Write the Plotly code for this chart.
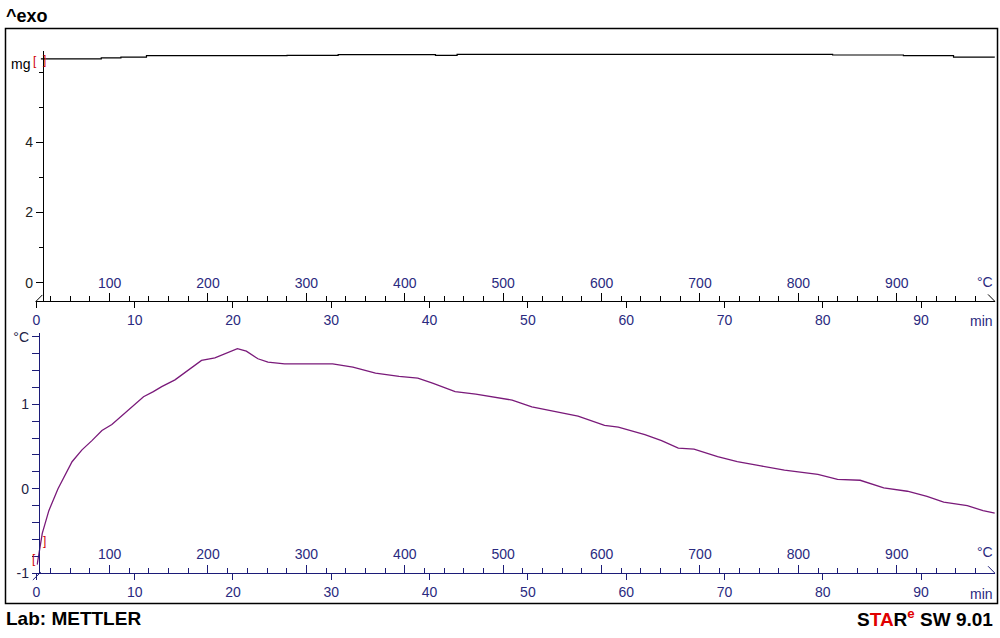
import plotly.graph_objects as go

# ---------------- data ----------------
dta_time = [0.08, 0.6, 1.27, 2.2, 3.63, 4.64, 5.65, 6.67, 7.68, 9.04, 9.88, 10.9, 11.9, 12.75,
            14.1, 15.45, 16.8, 18.16, 19.5, 20.45, 21.36, 22.54, 23.56, 25.25, 27.94, 30.14,
            32.2, 34.5, 36.9, 38.8, 40.3, 42.6, 44.7, 47.0, 48.4, 50.4, 52.4, 55.1, 57.8,
            59.2, 61.9, 63.6, 65.3, 66.9, 69.3, 71.3, 73.7, 76.1, 79.5, 81.5, 83.8, 86.2,
            88.6, 90.6, 92.3, 94.7, 96.3, 97.5]
dta_value = [-0.90, -0.53, -0.26, 0.00, 0.32, 0.46, 0.57, 0.69, 0.76, 0.90, 0.98, 1.09, 1.15, 1.21,
             1.29, 1.41, 1.52, 1.55, 1.62, 1.66, 1.63, 1.54, 1.50, 1.48, 1.48, 1.48,
             1.44, 1.37, 1.33, 1.31, 1.25, 1.15, 1.12, 1.08, 1.05, 0.97, 0.92, 0.86, 0.75,
             0.73, 0.64, 0.57, 0.48, 0.47, 0.38, 0.32, 0.27, 0.22, 0.17, 0.11, 0.10, 0.01,
             -0.03, -0.09, -0.16, -0.20, -0.26, -0.29]

mass_time = [0.46, 6.6, 8.6, 11.2, 25.5, 30.7, 40.6, 42.8, 81.0, 88.2, 93.3, 97.5]
mass_value = [6.38, 6.41, 6.43, 6.47, 6.48, 6.50, 6.48, 6.51, 6.49, 6.47, 6.43, 6.42]

time_ticks = [0, 10, 20, 30, 40, 50, 60, 70, 80, 90]
temp_ticks = [100, 200, 300, 400, 500, 600, 700, 800, 900]
temp_minor = [t for t in range(40, 1000, 20) if t % 100 != 0]
mass_ticks = [0, 2, 4]
mass_tick_text = ["0", "2", "4"]
mass_minor = [1, 3, 5, 6]
dta_ticks = [-1, 0, 1, 1.8]
dta_tick_text = ["-1", "0", "1", "°C"]
dta_minor = [-0.8, -0.6, -0.4, -0.2, 0.2, 0.4, 0.6, 0.8, 1.2, 1.4, 1.6]

T_START = 25.6      # °C at t = 0
RATE = 9.99         # K/min
T_END_MIN = 97.5

# ---------------- geometry helpers ----------------
W, H = 1000, 638
def px(x):
    return x / W
def py(y):
    return 1 - y / H

NAVY = "#2A2A80"
NAVY_LINE = "#1C1C78"
FONT = "Arial, Liberation Sans, sans-serif"

xdom = [px(32.5), px(994.8)]
trange = [0, T_END_MIN]
temprange = [T_START, T_START + RATE * T_END_MIN]

fig = go.Figure()
fig.add_trace(go.Scatter(x=mass_time, y=mass_value, mode="lines", line=dict(color="black", width=1.2, shape="hv"),
                         xaxis="x", yaxis="y", showlegend=False, hoverinfo="skip"))
fig.add_trace(go.Scatter(x=dta_time, y=dta_value, mode="lines", line=dict(color="#7A1A7A", width=1.3),
                         xaxis="x2", yaxis="y2", showlegend=False, hoverinfo="skip"))
# empty helper traces so that the temperature axes are drawn
fig.add_trace(go.Scatter(x=temprange, y=[None, None], mode="lines", xaxis="x3", yaxis="y",
                         showlegend=False, hoverinfo="skip"))
fig.add_trace(go.Scatter(x=temprange, y=[None, None], mode="lines", xaxis="x4", yaxis="y2",
                         showlegend=False, hoverinfo="skip"))

tickfont = dict(family=FONT, size=14, color=NAVY)

def time_axis(pos, color):
    return dict(domain=xdom, range=trange, anchor="free", position=pos, side="bottom",
                tickmode="array", tickvals=time_ticks, ticks="outside", ticklen=6, tickwidth=1,
                tickcolor=color, showline=True, linecolor=color, linewidth=1,
                showgrid=False, zeroline=False, tickfont=tickfont, fixedrange=True)

def temp_axis(over, pos, color):
    return dict(overlaying=over, domain=xdom, range=temprange, anchor="free", position=pos, side="top",
                tickmode="array", tickvals=temp_ticks, ticks="outside", ticklen=8, tickwidth=1,
                tickcolor=color, showline=False, showgrid=False, zeroline=False,
                minor=dict(tickmode="array", tickvals=temp_minor, ticks="outside", ticklen=5,
                           tickcolor=color, tickwidth=1, showgrid=False),
                tickfont=tickfont, fixedrange=True)

top_axis_y = py(303)
bot_axis_y = py(580)

fig.update_layout(
    width=W, height=H, margin=dict(l=0, r=0, t=0, b=0), autosize=False,
    paper_bgcolor="white", plot_bgcolor="rgba(0,0,0,0)",
    xaxis=time_axis(top_axis_y, "black"),
    xaxis3=temp_axis("x", top_axis_y, "black"),
    xaxis2=time_axis(bot_axis_y, NAVY_LINE),
    xaxis4=temp_axis("x2", bot_axis_y, NAVY_LINE),
    yaxis=dict(domain=[py(303), py(48)], range=[(284 - 303) / 35.75, (284 - 48) / 35.75],
               anchor="free", position=px(39), side="left",
               tickmode="array", tickvals=mass_ticks, ticktext=mass_tick_text,
               ticks="outside", ticklen=7, tickwidth=1, tickcolor="black",
               minor=dict(tickmode="array", tickvals=mass_minor, ticks="outside", ticklen=4,
                          tickcolor="black", tickwidth=1, showgrid=False),
               showline=True, linecolor="black", linewidth=1, showgrid=False, zeroline=False,
               tickfont=dict(family=FONT, size=14, color="#222222"), fixedrange=True),
    yaxis2=dict(domain=[py(580), py(335)], range=[-1.0, (494.0 - 335) / 86.0],
                anchor="free", position=px(35), side="left",
                tickmode="array", tickvals=dta_ticks, ticktext=dta_tick_text,
                ticks="outside", ticklen=7, tickwidth=1, tickcolor=NAVY_LINE,
                minor=dict(tickmode="array", tickvals=dta_minor, ticks="outside", ticklen=7,
                           tickcolor=NAVY_LINE, tickwidth=1, showgrid=False),
                showline=True, linecolor=NAVY_LINE, linewidth=1, showgrid=False, zeroline=False,
                tickfont=dict(family=FONT, size=14, color="#222244"), fixedrange=True),
)

def ann(text, x, y, xanchor="left", size=14, color="black", bold=False):
    t = f"<b>{text}</b>" if bold else text
    fig.add_annotation(text=t, x=px(x), y=py(y), xref="paper", yref="paper",
                       xanchor=xanchor, yanchor="middle", showarrow=False,
                       font=dict(family=FONT, size=size, color=color))

ann("^exo", 0, 12, size=18, bold=True)
ann("Lab: METTLER", 0, 626, size=19, bold=True)
ann("S<span style='color:#E00000'>TA</span>R<sup><span style='color:#E00000'>e</span></sup> SW 9.01",
    995, 626, xanchor="right", size=19, bold=True)
ann("mg", 28, 61, xanchor="right", size=14)
ann("°C", 995, 283, xanchor="right", size=14, color=NAVY)
ann("min", 995, 323, xanchor="right", size=14, color=NAVY)
ann("°C", 995, 558, xanchor="right", size=14, color=NAVY)
ann("min", 995, 601, xanchor="right", size=14, color=NAVY)
# red limit brackets
ann("[", 27, 58, size=12, color="#D00000")
ann("]", 37, 57, size=12, color="#D00000")
ann("[", 26, 566, size=12, color="#D00000")
ann("]", 37, 547, size=12, color="#D00000")

# frame
fig.add_shape(type="rect", xref="paper", yref="paper", x0=px(1.5), x1=px(997.5), y0=py(611), y1=py(25),
              line=dict(color="black", width=1.5))

def seg(x0, y0, x1, y1, color):
    fig.add_shape(type="line", xref="paper", yref="paper", x0=px(x0), y0=py(y0), x1=px(x1), y1=py(y1),
                  line=dict(color=color, width=1))
seg(31.7, 303.5, 38.5, 296.5, "black")
seg(988, 296, 994.8, 303, "black")
seg(29, 587, 37, 579, NAVY_LINE)
seg(988, 573, 994.8, 580, NAVY_LINE)

fig.write_html("out.html", config={"displayModeBar": False},
               post_script="document.body.style.margin='0';document.body.style.overflow='hidden';")
